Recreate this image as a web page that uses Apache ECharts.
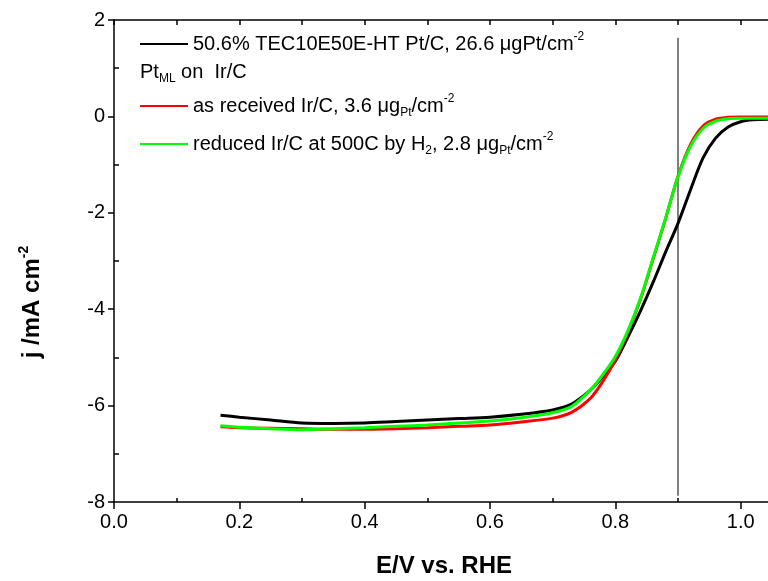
<!DOCTYPE html>
<html>
<head>
<meta charset="utf-8">
<script src="https://cdn.jsdelivr.net/npm/echarts@6/dist/echarts.min.js"></script>
<style>
  html, body { margin: 0; padding: 0; background: #fff; }
  #chart { width: 768px; height: 581px; }
</style>
</head>
<body>
<div id="chart"></div>
<script>
// potential (V vs RHE), shared by the three sweeps
const potential = [0.17, 0.2, 0.25, 0.3, 0.35, 0.4, 0.45, 0.5, 0.55, 0.6, 0.65, 0.7, 0.73, 0.76, 0.78,
  0.8, 0.82, 0.84, 0.86, 0.88, 0.9, 0.92, 0.94, 0.96, 0.98, 1.0, 1.02, 1.05];
// current density, mA cm-2
const ptcCurrent = [-6.2, -6.24, -6.3, -6.36, -6.37, -6.36, -6.33, -6.3, -6.27, -6.24, -6.18, -6.09, -5.97, -5.68, -5.4,
  -5.08, -4.58, -4.04, -3.45, -2.82, -2.22, -1.52, -0.86, -0.45, -0.22, -0.11, -0.07, -0.06];
const receivedCurrent = [-6.44, -6.46, -6.47, -6.48, -6.49, -6.49, -6.48, -6.46, -6.43, -6.4, -6.34, -6.26, -6.14, -5.85, -5.5,
  -5.05, -4.48, -3.8, -2.97, -2.13, -1.24, -0.58, -0.2, -0.06, -0.02, -0.01, -0.01, -0.01];
const reducedCurrent = [-6.42, -6.45, -6.48, -6.5, -6.48, -6.46, -6.43, -6.4, -6.36, -6.32, -6.25, -6.15, -6.02, -5.68, -5.36,
  -4.98, -4.45, -3.78, -2.95, -2.12, -1.25, -0.62, -0.25, -0.1, -0.05, -0.04, -0.04, -0.04];
// reference marker at 0.9 V
const markerX = [0.9, 0.9];
const markerY = [1.63, -7.87];

const FONT = '"Liberation Sans", Arial, sans-serif';

function pairs(xs, ys) {
  return xs.map((x, i) => [x, ys[i]]);
}

const chart = echarts.init(document.getElementById('chart'), null, { renderer: 'canvas' });

const lineStyleAxis = { color: '#000', width: 1.5 };
const richText = {
  sup: { fontSize: 12, fontFamily: FONT, color: '#000', verticalAlign: 'top', lineHeight: 26 },
  sub: { fontSize: 12, fontFamily: FONT, color: '#000', verticalAlign: 'bottom', lineHeight: 22 }
};

function legendText(x, y, text) {
  return {
    type: 'text',
    left: x,
    top: y - 13,
    style: {
      text: text,
      fontSize: 20,
      fontFamily: FONT,
      fill: '#000',
      lineHeight: 26,
      rich: richText
    }
  };
}

function legendLine(y, color) {
  return {
    type: 'line',
    shape: { x1: 140, y1: y, x2: 188, y2: y },
    style: { stroke: color, lineWidth: 2 }
  };
}

// plot box runs past the right edge of the page, as in the original figure
const option = {
  animation: false,
  grid: { left: 114, top: 20, right: -98, bottom: 79, outerBoundsMode: 'none', containLabel: false },
  xAxis: [
    {
      type: 'value', position: 'bottom', min: 0, max: 1.2, interval: 0.2,
      axisLine: { show: true, onZero: false, lineStyle: lineStyleAxis },
      axisTick: { show: true, inside: false, length: 7, lineStyle: lineStyleAxis },
      axisLabel: {
        fontSize: 20, fontFamily: FONT, color: '#000', margin: 10,
        formatter: v => v.toFixed(1)
      },
      splitLine: { show: false }
    },
    {
      type: 'value', position: 'bottom', min: 0, max: 1.2, interval: 0.1,
      axisLine: { show: false, onZero: false },
      axisTick: { show: true, inside: true, length: 4, lineStyle: lineStyleAxis,
        customValues: [0.1, 0.3, 0.5, 0.7, 0.9, 1.1] },
      axisLabel: { show: false },
      splitLine: { show: false }
    },
    {
      type: 'value', position: 'top', min: 0, max: 1.2, interval: 0.1,
      axisLine: { show: true, onZero: false, lineStyle: lineStyleAxis },
      axisTick: { show: true, inside: true, length: 5, lineStyle: lineStyleAxis },
      axisLabel: { show: false },
      splitLine: { show: false }
    }
  ],
  yAxis: [
    {
      type: 'value', position: 'left', min: -8, max: 2, interval: 2,
      axisLine: { show: true, onZero: false, lineStyle: lineStyleAxis },
      axisTick: { show: true, inside: false, length: 6, lineStyle: lineStyleAxis },
      axisLabel: { fontSize: 20, fontFamily: FONT, color: '#000', margin: 9 },
      splitLine: { show: false }
    },
    {
      type: 'value', position: 'left', min: -8, max: 2, interval: 1,
      axisLine: { show: false, onZero: false },
      axisTick: { show: true, inside: true, length: 5, lineStyle: lineStyleAxis,
        customValues: [-7, -5, -3, -1, 1] },
      axisLabel: { show: false },
      splitLine: { show: false }
    }
  ],
  series: [
    {
      name: 'marker', type: 'line', data: pairs(markerX, markerY),
      symbol: 'none', silent: true, lineStyle: { color: '#000', width: 1 }
    },
    {
      name: '50.6% TEC10E50E-HT Pt/C', type: 'line', data: pairs(potential, ptcCurrent),
      smooth: 0.3, symbol: 'none', lineStyle: { color: '#000', width: 3 }
    },
    {
      name: 'as received Ir/C', type: 'line', data: pairs(potential, receivedCurrent),
      smooth: 0.3, symbol: 'none', lineStyle: { color: '#ff0000', width: 3 }
    },
    {
      name: 'reduced Ir/C at 500C by H2', type: 'line', data: pairs(potential, reducedCurrent),
      smooth: 0.3, symbol: 'none', lineStyle: { color: '#00ff00', width: 3 }
    }
  ],
  graphic: [
    legendLine(44, '#000'),
    legendText(193, 44, '50.6% TEC10E50E-HT Pt/C, 26.6 μgPt/cm{sup|-2}'),
    legendText(140, 72, 'Pt{sub|ML} on  Ir/C'),
    legendLine(106, '#ff0000'),
    legendText(193, 106, 'as received Ir/C, 3.6 μg{sub|Pt}/cm{sup|-2}'),
    legendLine(144, '#00ff00'),
    legendText(193, 144, 'reduced Ir/C at 500C by H{sub|2}, 2.8 μg{sub|Pt}/cm{sup|-2}'),
    {
      type: 'text', x: 444, y: 566,
      style: {
        text: 'E/V vs. RHE', fontSize: 24, fontWeight: 'bold', fontFamily: FONT, fill: '#000',
        align: 'center', verticalAlign: 'middle'
      }
    },
    {
      type: 'text',
      x: 32, y: 302, rotation: Math.PI / 2,
      style: {
        text: 'j /mA cm{sup|-2}', fontSize: 24, fontWeight: 'bold', fontFamily: FONT, fill: '#000',
        align: 'center', verticalAlign: 'middle', lineHeight: 30,
        rich: { sup: { fontSize: 14, fontWeight: 'bold', fontFamily: FONT, verticalAlign: 'top', lineHeight: 30 } }
      }
    }
  ]
};

chart.setOption(option);
</script>
</body>
</html>
